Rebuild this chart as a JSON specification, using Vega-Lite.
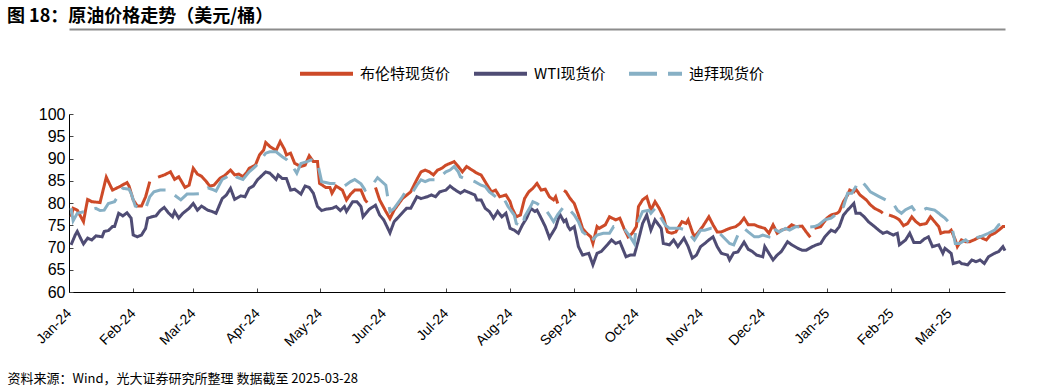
{
  "$schema": "https://vega.github.io/schema/vega-lite/v6.json",
  "width": 936,
  "height": 178,
  "autosize": {"type": "none"},
  "padding": {"left": 69, "top": 114, "right": 50, "bottom": 98},
  "background": "white",
  "title": {
    "text": "图 18：原油价格走势（美元/桶）",
    "anchor": "start",
    "frame": "group",
    "dx": -62,
    "offset": 3,
    "font": "Noto Sans CJK SC",
    "fontSize": 18,
    "fontWeight": "bold",
    "color": "#000000"
  },
  "config": {
    "view": {"stroke": null},
    "legend": {
      "orient": "none",
      "legendX": 229,
      "legendY": -69,
      "direction": "horizontal",
      "symbolType": "stroke",
      "symbolSize": 2809,
      "symbolStrokeWidth": 4,
      "labelFont": "Noto Sans CJK SC",
      "labelFontSize": 15,
      "labelColor": "#000000",
      "labelOffset": 5,
      "columnPadding": 15,
      "padding": 0
    }
  },
  "data": {
    "values": [
      {"d":"2024-01-02","s":"布伦特现货价","v":76.9},{"d":"2024-01-03","s":"布伦特现货价","v":78.8},{"d":"2024-01-05","s":"布伦特现货价","v":78.4},{"d":"2024-01-08","s":"布伦特现货价","v":75.8},{"d":"2024-01-09","s":"布伦特现货价","v":78.4},{"d":"2024-01-10","s":"布伦特现货价","v":80.8},{"d":"2024-01-12","s":"布伦特现货价","v":80.3},{"d":"2024-01-16","s":"布伦特现货价","v":80.1},{"d":"2024-01-19","s":"布伦特现货价","v":85.8},{"d":"2024-01-22","s":"布伦特现货价","v":82.9},{"d":"2024-01-26","s":"布伦特现货价","v":83.8},{"d":"2024-01-29","s":"布伦特现货价","v":84.6},{"d":"2024-01-30","s":"布伦特现货价","v":83.8},{"d":"2024-02-01","s":"布伦特现货价","v":80.7},{"d":"2024-02-03","s":"布伦特现货价","v":79.3},{"d":"2024-02-05","s":"布伦特现货价","v":79.3},{"d":"2024-02-07","s":"布伦特现货价","v":81.4},{"d":"2024-02-09","s":"布伦特现货价","v":84.8},{"d":"2024-02-11","s":"布伦特现货价","v":null},{"d":"2024-02-13","s":"布伦特现货价","v":85.8},{"d":"2024-02-16","s":"布伦特现货价","v":86.3},{"d":"2024-02-19","s":"布伦特现货价","v":87.0},{"d":"2024-02-21","s":"布伦特现货价","v":85.3},{"d":"2024-02-23","s":"布伦特现货价","v":85.9},{"d":"2024-02-26","s":"布伦特现货价","v":83.5},{"d":"2024-02-28","s":"布伦特现货价","v":84.0},{"d":"2024-03-01","s":"布伦特现货价","v":87.8},{"d":"2024-03-03","s":"布伦特现货价","v":86.5},{"d":"2024-03-05","s":"布伦特现货价","v":86.0},{"d":"2024-03-07","s":"布伦特现货价","v":85.0},{"d":"2024-03-09","s":"布伦特现货价","v":83.8},{"d":"2024-03-11","s":"布伦特现货价","v":84.0},{"d":"2024-03-14","s":"布伦特现货价","v":85.6},{"d":"2024-03-16","s":"布伦特现货价","v":86.1},{"d":"2024-03-19","s":"布伦特现货价","v":87.4},{"d":"2024-03-21","s":"布伦特现货价","v":86.3},{"d":"2024-03-23","s":"布伦特现货价","v":86.5},{"d":"2024-03-25","s":"布伦特现货价","v":85.9},{"d":"2024-03-27","s":"布伦特现货价","v":87.0},{"d":"2024-03-28","s":"布伦特现货价","v":87.8},{"d":"2024-03-31","s":"布伦特现货价","v":88.5},{"d":"2024-04-02","s":"布伦特现货价","v":90.8},{"d":"2024-04-04","s":"布伦特现货价","v":91.9},{"d":"2024-04-05","s":"布伦特现货价","v":93.6},{"d":"2024-04-07","s":"布伦特现货价","v":92.7},{"d":"2024-04-10","s":"布伦特现货价","v":91.8},{"d":"2024-04-12","s":"布伦特现货价","v":93.8},{"d":"2024-04-14","s":"布伦特现货价","v":92.1},{"d":"2024-04-15","s":"布伦特现货价","v":90.8},{"d":"2024-04-17","s":"布伦特现货价","v":91.2},{"d":"2024-04-19","s":"布伦特现货价","v":88.9},{"d":"2024-04-22","s":"布伦特现货价","v":88.2},{"d":"2024-04-24","s":"布伦特现货价","v":88.5},{"d":"2024-04-26","s":"布伦特现货价","v":90.6},{"d":"2024-04-28","s":"布伦特现货价","v":89.3},{"d":"2024-04-30","s":"布伦特现货价","v":89.3},{"d":"2024-05-01","s":"布伦特现货价","v":84.4},{"d":"2024-05-04","s":"布伦特现货价","v":83.5},{"d":"2024-05-06","s":"布伦特现货价","v":83.5},{"d":"2024-05-07","s":"布伦特现货价","v":82.2},{"d":"2024-05-09","s":"布伦特现货价","v":83.8},{"d":"2024-05-12","s":"布伦特现货价","v":82.9},{"d":"2024-05-14","s":"布伦特现货价","v":80.7},{"d":"2024-05-16","s":"布伦特现货价","v":82.0},{"d":"2024-05-18","s":"布伦特现货价","v":82.9},{"d":"2024-05-21","s":"布伦特现货价","v":82.9},{"d":"2024-05-23","s":"布伦特现货价","v":80.7},{"d":"2024-05-24","s":"布伦特现货价","v":80.1},{"d":"2024-05-26","s":"布伦特现货价","v":null},{"d":"2024-05-28","s":"布伦特现货价","v":83.5},{"d":"2024-05-30","s":"布伦特现货价","v":80.7},{"d":"2024-06-02","s":"布伦特现货价","v":78.1},{"d":"2024-06-04","s":"布伦特现货价","v":76.5},{"d":"2024-06-06","s":"布伦特现货价","v":78.4},{"d":"2024-06-10","s":"布伦特现货价","v":81.0},{"d":"2024-06-14","s":"布伦特现货价","v":82.5},{"d":"2024-06-17","s":"布伦特现货价","v":85.3},{"d":"2024-06-19","s":"布伦特现货价","v":87.0},{"d":"2024-06-21","s":"布伦特现货价","v":87.4},{"d":"2024-06-23","s":"布伦特现货价","v":87.0},{"d":"2024-06-25","s":"布伦特现货价","v":86.3},{"d":"2024-06-27","s":"布伦特现货价","v":87.4},{"d":"2024-06-29","s":"布伦特现货价","v":87.8},{"d":"2024-07-01","s":"布伦特现货价","v":88.5},{"d":"2024-07-03","s":"布伦特现货价","v":88.9},{"d":"2024-07-05","s":"布伦特现货价","v":89.3},{"d":"2024-07-07","s":"布伦特现货价","v":88.2},{"d":"2024-07-09","s":"布伦特现货价","v":87.0},{"d":"2024-07-11","s":"布伦特现货价","v":88.2},{"d":"2024-07-14","s":"布伦特现货价","v":87.3},{"d":"2024-07-16","s":"布伦特现货价","v":86.7},{"d":"2024-07-18","s":"布伦特现货价","v":86.3},{"d":"2024-07-21","s":"布伦特现货价","v":84.0},{"d":"2024-07-23","s":"布伦特现货价","v":82.5},{"d":"2024-07-25","s":"布伦特现货价","v":82.9},{"d":"2024-07-27","s":"布伦特现货价","v":81.4},{"d":"2024-07-30","s":"布伦特现货价","v":81.8},{"d":"2024-08-01","s":"布伦特现货价","v":80.3},{"d":"2024-08-02","s":"布伦特现货价","v":78.8},{"d":"2024-08-04","s":"布伦特现货价","v":76.9},{"d":"2024-08-06","s":"布伦特现货价","v":77.3},{"d":"2024-08-08","s":"布伦特现货价","v":81.0},{"d":"2024-08-10","s":"布伦特现货价","v":82.5},{"d":"2024-08-12","s":"布伦特现货价","v":83.3},{"d":"2024-08-14","s":"布伦特现货价","v":84.4},{"d":"2024-08-16","s":"布伦特现货价","v":82.9},{"d":"2024-08-18","s":"布伦特现货价","v":83.1},{"d":"2024-08-20","s":"布伦特现货价","v":81.4},{"d":"2024-08-22","s":"布伦特现货价","v":80.7},{"d":"2024-08-23","s":"布伦特现货价","v":81.4},{"d":"2024-08-24","s":"布伦特现货价","v":79.9},{"d":"2024-08-25","s":"布伦特现货价","v":null},{"d":"2024-08-27","s":"布伦特现货价","v":82.8},{"d":"2024-08-28","s":"布伦特现货价","v":82.5},{"d":"2024-08-30","s":"布伦特现货价","v":81.0},{"d":"2024-09-01","s":"布伦特现货价","v":79.9},{"d":"2024-09-03","s":"布伦特现货价","v":77.3},{"d":"2024-09-05","s":"布伦特现货价","v":74.3},{"d":"2024-09-07","s":"布伦特现货价","v":73.2},{"d":"2024-09-09","s":"布伦特现货价","v":72.4},{"d":"2024-09-10","s":"布伦特现货价","v":70.9},{"d":"2024-09-12","s":"布伦特现货价","v":74.7},{"d":"2024-09-13","s":"布伦特现货价","v":74.3},{"d":"2024-09-16","s":"布伦特现货价","v":75.1},{"d":"2024-09-18","s":"布伦特现货价","v":76.9},{"d":"2024-09-21","s":"布伦特现货价","v":76.2},{"d":"2024-09-23","s":"布伦特现货价","v":76.6},{"d":"2024-09-25","s":"布伦特现货价","v":74.3},{"d":"2024-09-27","s":"布伦特现货价","v":72.4},{"d":"2024-09-29","s":"布伦特现货价","v":73.2},{"d":"2024-10-01","s":"布伦特现货价","v":74.7},{"d":"2024-10-02","s":"布伦特现货价","v":79.2},{"d":"2024-10-04","s":"布伦特现货价","v":80.7},{"d":"2024-10-06","s":"布伦特现货价","v":81.4},{"d":"2024-10-08","s":"布伦特现货价","v":78.4},{"d":"2024-10-10","s":"布伦特现货价","v":80.3},{"d":"2024-10-12","s":"布伦特现货价","v":78.8},{"d":"2024-10-14","s":"布伦特现货价","v":76.9},{"d":"2024-10-16","s":"布伦特现货价","v":73.5},{"d":"2024-10-18","s":"布伦特现货价","v":73.2},{"d":"2024-10-20","s":"布伦特现货价","v":73.5},{"d":"2024-10-23","s":"布伦特现货价","v":75.8},{"d":"2024-10-25","s":"布伦特现货价","v":75.4},{"d":"2024-10-26","s":"布伦特现货价","v":76.2},{"d":"2024-10-28","s":"布伦特现货价","v":73.5},{"d":"2024-10-29","s":"布伦特现货价","v":72.4},{"d":"2024-10-31","s":"布伦特现货价","v":73.5},{"d":"2024-11-02","s":"布伦特现货价","v":74.7},{"d":"2024-11-05","s":"布伦特现货价","v":76.9},{"d":"2024-11-07","s":"布伦特现货价","v":75.1},{"d":"2024-11-09","s":"布伦特现货价","v":73.5},{"d":"2024-11-11","s":"布伦特现货价","v":73.5},{"d":"2024-11-13","s":"布伦特现货价","v":73.9},{"d":"2024-11-15","s":"布伦特现货价","v":74.3},{"d":"2024-11-18","s":"布伦特现货价","v":74.7},{"d":"2024-11-20","s":"布伦特现货价","v":75.4},{"d":"2024-11-22","s":"布伦特现货价","v":76.6},{"d":"2024-11-24","s":"布伦特现货价","v":75.1},{"d":"2024-11-27","s":"布伦特现货价","v":75.1},{"d":"2024-11-29","s":"布伦特现货价","v":74.7},{"d":"2024-12-02","s":"布伦特现货价","v":74.3},{"d":"2024-12-04","s":"布伦特现货价","v":73.2},{"d":"2024-12-06","s":"布伦特现货价","v":75.1},{"d":"2024-12-08","s":"布伦特现货价","v":73.2},{"d":"2024-12-10","s":"布伦特现货价","v":73.9},{"d":"2024-12-13","s":"布伦特现货价","v":74.3},{"d":"2024-12-15","s":"布伦特现货价","v":75.1},{"d":"2024-12-17","s":"布伦特现货价","v":74.7},{"d":"2024-12-20","s":"布伦特现货价","v":74.8},{"d":"2024-12-22","s":"布伦特现货价","v":73.5},{"d":"2024-12-24","s":"布伦特现货价","v":72.3},{"d":"2024-12-25","s":"布伦特现货价","v":null},{"d":"2024-12-26","s":"布伦特现货价","v":74.3},{"d":"2024-12-29","s":"布伦特现货价","v":74.7},{"d":"2025-01-01","s":"布伦特现货价","v":76.6},{"d":"2025-01-03","s":"布伦特现货价","v":77.3},{"d":"2025-01-06","s":"布伦特现货价","v":77.7},{"d":"2025-01-07","s":"布伦特现货价","v":78.1},{"d":"2025-01-09","s":"布伦特现货价","v":80.3},{"d":"2025-01-11","s":"布伦特现货价","v":81.8},{"d":"2025-01-12","s":"布伦特现货价","v":82.9},{"d":"2025-01-14","s":"布伦特现货价","v":82.5},{"d":"2025-01-15","s":"布伦特现货价","v":83.1},{"d":"2025-01-17","s":"布伦特现货价","v":81.8},{"d":"2025-01-20","s":"布伦特现货价","v":80.7},{"d":"2025-01-22","s":"布伦特现货价","v":79.6},{"d":"2025-01-24","s":"布伦特现货价","v":78.8},{"d":"2025-01-27","s":"布伦特现货价","v":78.1},{"d":"2025-01-28","s":"布伦特现货价","v":77.7},{"d":"2025-01-29","s":"布伦特现货价","v":null},{"d":"2025-01-31","s":"布伦特现货价","v":77.3},{"d":"2025-02-03","s":"布伦特现货价","v":76.8},{"d":"2025-02-05","s":"布伦特现货价","v":76.2},{"d":"2025-02-07","s":"布伦特现货价","v":74.9},{"d":"2025-02-09","s":"布伦特现货价","v":75.4},{"d":"2025-02-11","s":"布伦特现货价","v":76.9},{"d":"2025-02-13","s":"布伦特现货价","v":75.8},{"d":"2025-02-15","s":"布伦特现货价","v":75.1},{"d":"2025-02-18","s":"布伦特现货价","v":75.4},{"d":"2025-02-20","s":"布伦特现货价","v":76.9},{"d":"2025-02-22","s":"布伦特现货价","v":75.8},{"d":"2025-02-24","s":"布伦特现货价","v":74.7},{"d":"2025-02-25","s":"布伦特现货价","v":73.2},{"d":"2025-02-27","s":"布伦特现货价","v":73.5},{"d":"2025-03-01","s":"布伦特现货价","v":73.5},{"d":"2025-03-02","s":"布伦特现货价","v":73.9},{"d":"2025-03-04","s":"布伦特现货价","v":71.7},{"d":"2025-03-05","s":"布伦特现货价","v":70.2},{"d":"2025-03-07","s":"布伦特现货价","v":71.7},{"d":"2025-03-09","s":"布伦特现货价","v":71.3},{"d":"2025-03-11","s":"布伦特现货价","v":71.3},{"d":"2025-03-13","s":"布伦特现货价","v":71.7},{"d":"2025-03-16","s":"布伦特现货价","v":72.4},{"d":"2025-03-17","s":"布伦特现货价","v":72.1},{"d":"2025-03-19","s":"布伦特现货价","v":71.7},{"d":"2025-03-21","s":"布伦特现货价","v":72.8},{"d":"2025-03-23","s":"布伦特现货价","v":73.2},{"d":"2025-03-25","s":"布伦特现货价","v":73.9},{"d":"2025-03-27","s":"布伦特现货价","v":74.7},{"d":"2025-03-28","s":"布伦特现货价","v":74.7},

      {"d":"2024-01-02","s":"WTI现货价","v":70.6},{"d":"2024-01-04","s":"WTI现货价","v":72.8},{"d":"2024-01-05","s":"WTI现货价","v":73.6},{"d":"2024-01-07","s":"WTI现货价","v":71.7},{"d":"2024-01-08","s":"WTI现货价","v":70.8},{"d":"2024-01-10","s":"WTI现货价","v":72.1},{"d":"2024-01-12","s":"WTI现货价","v":71.7},{"d":"2024-01-14","s":"WTI现货价","v":72.6},{"d":"2024-01-17","s":"WTI现货价","v":72.4},{"d":"2024-01-18","s":"WTI现货价","v":73.6},{"d":"2024-01-20","s":"WTI现货价","v":73.8},{"d":"2024-01-22","s":"WTI现货价","v":74.7},{"d":"2024-01-23","s":"WTI现货价","v":74.7},{"d":"2024-01-25","s":"WTI现货价","v":77.7},{"d":"2024-01-27","s":"WTI现货价","v":77.1},{"d":"2024-01-29","s":"WTI现货价","v":77.8},{"d":"2024-01-31","s":"WTI现货价","v":76.6},{"d":"2024-02-01","s":"WTI现货价","v":72.8},{"d":"2024-02-03","s":"WTI现货价","v":72.4},{"d":"2024-02-05","s":"WTI现货价","v":72.8},{"d":"2024-02-07","s":"WTI现货价","v":74.3},{"d":"2024-02-08","s":"WTI现货价","v":76.6},{"d":"2024-02-10","s":"WTI现货价","v":76.9},{"d":"2024-02-12","s":"WTI现货价","v":77.1},{"d":"2024-02-14","s":"WTI现货价","v":78.3},{"d":"2024-02-16","s":"WTI现货价","v":79.0},{"d":"2024-02-18","s":"WTI现货价","v":77.8},{"d":"2024-02-20","s":"WTI现货价","v":76.9},{"d":"2024-02-21","s":"WTI现货价","v":78.1},{"d":"2024-02-23","s":"WTI现货价","v":76.6},{"d":"2024-02-25","s":"WTI现货价","v":77.7},{"d":"2024-02-28","s":"WTI现货价","v":78.8},{"d":"2024-03-01","s":"WTI现货价","v":79.9},{"d":"2024-03-03","s":"WTI现货价","v":78.4},{"d":"2024-03-05","s":"WTI现货价","v":79.3},{"d":"2024-03-08","s":"WTI现货价","v":78.4},{"d":"2024-03-10","s":"WTI现货价","v":78.1},{"d":"2024-03-12","s":"WTI现货价","v":77.7},{"d":"2024-03-15","s":"WTI现货价","v":81.0},{"d":"2024-03-17","s":"WTI现货价","v":81.8},{"d":"2024-03-19","s":"WTI现货价","v":83.3},{"d":"2024-03-21","s":"WTI现货价","v":80.8},{"d":"2024-03-24","s":"WTI现货价","v":81.6},{"d":"2024-03-26","s":"WTI现货价","v":81.4},{"d":"2024-03-28","s":"WTI现货价","v":83.3},{"d":"2024-03-30","s":"WTI现货价","v":83.8},{"d":"2024-04-01","s":"WTI现货价","v":85.2},{"d":"2024-04-03","s":"WTI现货价","v":86.1},{"d":"2024-04-05","s":"WTI现货价","v":87.0},{"d":"2024-04-07","s":"WTI现货价","v":86.7},{"d":"2024-04-10","s":"WTI现货价","v":85.3},{"d":"2024-04-11","s":"WTI现货价","v":86.3},{"d":"2024-04-13","s":"WTI现货价","v":85.5},{"d":"2024-04-15","s":"WTI现货价","v":85.5},{"d":"2024-04-17","s":"WTI现货价","v":82.9},{"d":"2024-04-19","s":"WTI现货价","v":83.1},{"d":"2024-04-22","s":"WTI现货价","v":82.0},{"d":"2024-04-24","s":"WTI现货价","v":83.8},{"d":"2024-04-26","s":"WTI现货价","v":83.5},{"d":"2024-04-28","s":"WTI现货价","v":82.2},{"d":"2024-04-30","s":"WTI现货价","v":79.2},{"d":"2024-05-02","s":"WTI现货价","v":78.3},{"d":"2024-05-04","s":"WTI现货价","v":78.6},{"d":"2024-05-07","s":"WTI现货价","v":78.8},{"d":"2024-05-09","s":"WTI现货价","v":79.2},{"d":"2024-05-11","s":"WTI现货价","v":78.3},{"d":"2024-05-13","s":"WTI现货价","v":79.2},{"d":"2024-05-14","s":"WTI现货价","v":78.1},{"d":"2024-05-17","s":"WTI现货价","v":80.3},{"d":"2024-05-19","s":"WTI现货价","v":80.3},{"d":"2024-05-21","s":"WTI现货价","v":79.2},{"d":"2024-05-22","s":"WTI现货价","v":76.9},{"d":"2024-05-25","s":"WTI现货价","v":78.6},{"d":"2024-05-28","s":"WTI现货价","v":79.5},{"d":"2024-05-30","s":"WTI现货价","v":77.3},{"d":"2024-06-01","s":"WTI现货价","v":76.2},{"d":"2024-06-04","s":"WTI现货价","v":73.3},{"d":"2024-06-06","s":"WTI现货价","v":75.8},{"d":"2024-06-09","s":"WTI现货价","v":77.3},{"d":"2024-06-12","s":"WTI现货价","v":78.8},{"d":"2024-06-14","s":"WTI现货价","v":78.8},{"d":"2024-06-17","s":"WTI现货价","v":81.4},{"d":"2024-06-19","s":"WTI现货价","v":81.0},{"d":"2024-06-22","s":"WTI现货价","v":81.4},{"d":"2024-06-24","s":"WTI现货价","v":81.8},{"d":"2024-06-26","s":"WTI现货价","v":81.4},{"d":"2024-06-28","s":"WTI现货价","v":82.5},{"d":"2024-07-01","s":"WTI现货价","v":82.9},{"d":"2024-07-03","s":"WTI现货价","v":83.8},{"d":"2024-07-05","s":"WTI现货价","v":83.1},{"d":"2024-07-08","s":"WTI现货价","v":82.2},{"d":"2024-07-10","s":"WTI现货价","v":82.8},{"d":"2024-07-13","s":"WTI现货价","v":82.2},{"d":"2024-07-15","s":"WTI现货价","v":81.8},{"d":"2024-07-16","s":"WTI现货价","v":80.7},{"d":"2024-07-18","s":"WTI现货价","v":80.7},{"d":"2024-07-20","s":"WTI现货价","v":78.8},{"d":"2024-07-22","s":"WTI现货价","v":78.1},{"d":"2024-07-24","s":"WTI现货价","v":76.6},{"d":"2024-07-26","s":"WTI现货价","v":78.1},{"d":"2024-07-28","s":"WTI现货价","v":76.9},{"d":"2024-07-30","s":"WTI现货价","v":77.7},{"d":"2024-08-01","s":"WTI现货价","v":74.3},{"d":"2024-08-03","s":"WTI现货价","v":73.9},{"d":"2024-08-05","s":"WTI现货价","v":73.2},{"d":"2024-08-07","s":"WTI现货价","v":75.1},{"d":"2024-08-09","s":"WTI现货价","v":76.6},{"d":"2024-08-11","s":"WTI现货价","v":78.8},{"d":"2024-08-13","s":"WTI现货价","v":78.1},{"d":"2024-08-14","s":"WTI现货价","v":78.4},{"d":"2024-08-16","s":"WTI现货价","v":76.6},{"d":"2024-08-18","s":"WTI现货价","v":74.7},{"d":"2024-08-20","s":"WTI现货价","v":72.2},{"d":"2024-08-23","s":"WTI现货价","v":74.5},{"d":"2024-08-25","s":"WTI现货价","v":77.5},{"d":"2024-08-27","s":"WTI现货价","v":75.8},{"d":"2024-08-28","s":"WTI现货价","v":76.2},{"d":"2024-08-29","s":"WTI现货价","v":74.7},{"d":"2024-08-30","s":"WTI现货价","v":74.0},{"d":"2024-09-01","s":"WTI现货价","v":74.7},{"d":"2024-09-03","s":"WTI现货价","v":70.2},{"d":"2024-09-05","s":"WTI现货价","v":68.3},{"d":"2024-09-08","s":"WTI现货价","v":68.7},{"d":"2024-09-10","s":"WTI现货价","v":66.1},{"d":"2024-09-12","s":"WTI现货价","v":68.7},{"d":"2024-09-14","s":"WTI现货价","v":69.1},{"d":"2024-09-17","s":"WTI现货价","v":70.6},{"d":"2024-09-19","s":"WTI现货价","v":71.7},{"d":"2024-09-21","s":"WTI现货价","v":70.9},{"d":"2024-09-23","s":"WTI现货价","v":71.3},{"d":"2024-09-26","s":"WTI现货价","v":67.9},{"d":"2024-09-28","s":"WTI现货价","v":68.3},{"d":"2024-09-30","s":"WTI现货价","v":68.3},{"d":"2024-10-02","s":"WTI现货价","v":71.7},{"d":"2024-10-04","s":"WTI现货价","v":75.4},{"d":"2024-10-06","s":"WTI现货价","v":77.3},{"d":"2024-10-08","s":"WTI现货价","v":73.9},{"d":"2024-10-10","s":"WTI现货价","v":76.2},{"d":"2024-10-13","s":"WTI现货价","v":74.3},{"d":"2024-10-14","s":"WTI现货价","v":70.9},{"d":"2024-10-17","s":"WTI现货价","v":70.6},{"d":"2024-10-19","s":"WTI现货价","v":71.7},{"d":"2024-10-21","s":"WTI现货价","v":70.2},{"d":"2024-10-24","s":"WTI现货价","v":72.1},{"d":"2024-10-26","s":"WTI现货价","v":70.2},{"d":"2024-10-28","s":"WTI现货价","v":67.6},{"d":"2024-10-30","s":"WTI现货价","v":68.3},{"d":"2024-11-01","s":"WTI现货价","v":70.2},{"d":"2024-11-03","s":"WTI现货价","v":70.9},{"d":"2024-11-05","s":"WTI现货价","v":71.7},{"d":"2024-11-07","s":"WTI现货价","v":72.4},{"d":"2024-11-09","s":"WTI现货价","v":70.2},{"d":"2024-11-11","s":"WTI现货价","v":68.7},{"d":"2024-11-14","s":"WTI现货价","v":68.3},{"d":"2024-11-15","s":"WTI现货价","v":67.2},{"d":"2024-11-17","s":"WTI现货价","v":68.8},{"d":"2024-11-19","s":"WTI现货价","v":69.0},{"d":"2024-11-22","s":"WTI现货价","v":71.2},{"d":"2024-11-24","s":"WTI现货价","v":69.6},{"d":"2024-11-26","s":"WTI现货价","v":69.1},{"d":"2024-11-28","s":"WTI现货价","v":68.3},{"d":"2024-12-01","s":"WTI现货价","v":67.9},{"d":"2024-12-02","s":"WTI现货价","v":70.2},{"d":"2024-12-04","s":"WTI现货价","v":68.7},{"d":"2024-12-06","s":"WTI现货价","v":67.2},{"d":"2024-12-08","s":"WTI现货价","v":68.3},{"d":"2024-12-10","s":"WTI现货价","v":69.1},{"d":"2024-12-13","s":"WTI现货价","v":71.3},{"d":"2024-12-15","s":"WTI现货价","v":70.6},{"d":"2024-12-18","s":"WTI现货价","v":69.8},{"d":"2024-12-20","s":"WTI现货价","v":69.4},{"d":"2024-12-22","s":"WTI现货价","v":69.4},{"d":"2024-12-25","s":"WTI现货价","v":70.2},{"d":"2024-12-27","s":"WTI现货价","v":70.6},{"d":"2024-12-29","s":"WTI现货价","v":70.9},{"d":"2024-12-31","s":"WTI现货价","v":72.4},{"d":"2025-01-03","s":"WTI现货价","v":73.9},{"d":"2025-01-05","s":"WTI现货价","v":73.5},{"d":"2025-01-07","s":"WTI现货价","v":74.7},{"d":"2025-01-09","s":"WTI现货价","v":77.3},{"d":"2025-01-11","s":"WTI现货价","v":78.4},{"d":"2025-01-14","s":"WTI现货价","v":79.9},{"d":"2025-01-15","s":"WTI现货价","v":77.7},{"d":"2025-01-17","s":"WTI现货价","v":77.7},{"d":"2025-01-19","s":"WTI现货价","v":76.9},{"d":"2025-01-21","s":"WTI现货价","v":75.8},{"d":"2025-01-24","s":"WTI现货价","v":74.7},{"d":"2025-01-26","s":"WTI现货价","v":73.9},{"d":"2025-01-28","s":"WTI现货价","v":73.2},{"d":"2025-01-30","s":"WTI现货价","v":73.5},{"d":"2025-02-02","s":"WTI现货价","v":72.8},{"d":"2025-02-04","s":"WTI现货价","v":73.2},{"d":"2025-02-05","s":"WTI现货价","v":70.6},{"d":"2025-02-08","s":"WTI现货价","v":71.7},{"d":"2025-02-10","s":"WTI现货价","v":73.2},{"d":"2025-02-12","s":"WTI现货价","v":71.1},{"d":"2025-02-15","s":"WTI现货价","v":71.1},{"d":"2025-02-17","s":"WTI现货价","v":71.9},{"d":"2025-02-19","s":"WTI现货价","v":72.4},{"d":"2025-02-21","s":"WTI现货价","v":70.2},{"d":"2025-02-24","s":"WTI现货价","v":70.6},{"d":"2025-02-26","s":"WTI现货价","v":68.7},{"d":"2025-02-27","s":"WTI现货价","v":69.8},{"d":"2025-03-02","s":"WTI现货价","v":68.7},{"d":"2025-03-03","s":"WTI现货价","v":66.4},{"d":"2025-03-06","s":"WTI现货价","v":66.8},{"d":"2025-03-07","s":"WTI现货价","v":66.4},{"d":"2025-03-10","s":"WTI现货价","v":66.1},{"d":"2025-03-12","s":"WTI现货价","v":67.2},{"d":"2025-03-14","s":"WTI现货价","v":66.8},{"d":"2025-03-16","s":"WTI现货价","v":67.2},{"d":"2025-03-18","s":"WTI现货价","v":66.4},{"d":"2025-03-20","s":"WTI现货价","v":67.9},{"d":"2025-03-23","s":"WTI现货价","v":68.7},{"d":"2025-03-25","s":"WTI现货价","v":69.1},{"d":"2025-03-27","s":"WTI现货价","v":70.2},{"d":"2025-03-28","s":"WTI现货价","v":69.3},

      {"d":"2024-01-02","s":"迪拜现货价","v":78.8},{"d":"2024-01-03","s":"迪拜现货价","v":76.0},{"d":"2024-01-05","s":"迪拜现货价","v":77.7},{"d":"2024-01-09","s":"迪拜现货价","v":78.1},{"d":"2024-01-11","s":"迪拜现货价","v":78.4},{"d":"2024-01-14","s":"迪拜现货价","v":78.8},{"d":"2024-01-16","s":"迪拜现货价","v":78.3},{"d":"2024-01-18","s":"迪拜现货价","v":78.4},{"d":"2024-01-20","s":"迪拜现货价","v":79.9},{"d":"2024-01-23","s":"迪拜现货价","v":80.3},{"d":"2024-01-27","s":"迪拜现货价","v":83.3},{"d":"2024-01-30","s":"迪拜现货价","v":83.1},{"d":"2024-01-31","s":"迪拜现货价","v":82.2},{"d":"2024-02-02","s":"迪拜现货价","v":79.3},{"d":"2024-02-04","s":"迪拜现货价","v":79.0},{"d":"2024-02-07","s":"迪拜现货价","v":78.8},{"d":"2024-02-09","s":"迪拜现货价","v":81.4},{"d":"2024-02-11","s":"迪拜现货价","v":82.5},{"d":"2024-02-14","s":"迪拜现货价","v":82.9},{"d":"2024-02-18","s":"迪拜现货价","v":82.9},{"d":"2024-02-22","s":"迪拜现货价","v":81.4},{"d":"2024-02-24","s":"迪拜现货价","v":80.7},{"d":"2024-02-27","s":"迪拜现货价","v":82.0},{"d":"2024-03-01","s":"迪拜现货价","v":82.0},{"d":"2024-03-05","s":"迪拜现货价","v":82.1},{"d":"2024-03-08","s":"迪拜现货价","v":83.4},{"d":"2024-03-10","s":"迪拜现货价","v":83.1},{"d":"2024-03-12","s":"迪拜现货价","v":82.7},{"d":"2024-03-15","s":"迪拜现货价","v":85.3},{"d":"2024-03-17","s":"迪拜现货价","v":85.8},{"d":"2024-03-20","s":"迪拜现货价","v":86.7},{"d":"2024-03-22","s":"迪拜现货价","v":85.8},{"d":"2024-03-25","s":"迪拜现货价","v":85.3},{"d":"2024-03-28","s":"迪拜现货价","v":87.0},{"d":"2024-03-31","s":"迪拜现货价","v":88.2},{"d":"2024-04-02","s":"迪拜现货价","v":89.3},{"d":"2024-04-05","s":"迪拜现货价","v":91.2},{"d":"2024-04-07","s":"迪拜现货价","v":91.5},{"d":"2024-04-10","s":"迪拜现货价","v":91.5},{"d":"2024-04-13","s":"迪拜现货价","v":90.4},{"d":"2024-04-15","s":"迪拜现货价","v":89.8},{"d":"2024-04-18","s":"迪拜现货价","v":88.2},{"d":"2024-04-20","s":"迪拜现货价","v":86.7},{"d":"2024-04-22","s":"迪拜现货价","v":88.9},{"d":"2024-04-25","s":"迪拜现货价","v":89.3},{"d":"2024-04-27","s":"迪拜现货价","v":89.7},{"d":"2024-04-30","s":"迪拜现货价","v":89.1},{"d":"2024-05-02","s":"迪拜现货价","v":84.8},{"d":"2024-05-04","s":"迪拜现货价","v":84.6},{"d":"2024-05-06","s":"迪拜现货价","v":84.4},{"d":"2024-05-08","s":"迪拜现货价","v":84.4},{"d":"2024-05-12","s":"迪拜现货价","v":83.5},{"d":"2024-05-16","s":"迪拜现货价","v":84.8},{"d":"2024-05-18","s":"迪拜现货价","v":85.3},{"d":"2024-05-21","s":"迪拜现货价","v":84.3},{"d":"2024-05-23","s":"迪拜现货价","v":82.9},{"d":"2024-05-25","s":"迪拜现货价","v":83.5},{"d":"2024-05-27","s":"迪拜现货价","v":84.4},{"d":"2024-05-29","s":"迪拜现货价","v":85.7},{"d":"2024-06-02","s":"迪拜现货价","v":84.0},{"d":"2024-06-04","s":"迪拜现货价","v":78.1},{"d":"2024-06-06","s":"迪拜现货价","v":78.8},{"d":"2024-06-10","s":"迪拜现货价","v":81.4},{"d":"2024-06-12","s":"迪拜现货价","v":82.9},{"d":"2024-06-15","s":"迪拜现货价","v":82.5},{"d":"2024-06-17","s":"迪拜现货价","v":84.0},{"d":"2024-06-19","s":"迪拜现货价","v":85.2},{"d":"2024-06-21","s":"迪拜现货价","v":84.8},{"d":"2024-06-23","s":"迪拜现货价","v":85.2},{"d":"2024-06-26","s":"迪拜现货价","v":85.2},{"d":"2024-06-29","s":"迪拜现货价","v":86.2},{"d":"2024-07-01","s":"迪拜现货价","v":87.0},{"d":"2024-07-03","s":"迪拜现货价","v":87.4},{"d":"2024-07-05","s":"迪拜现货价","v":88.2},{"d":"2024-07-07","s":"迪拜现货价","v":87.0},{"d":"2024-07-08","s":"迪拜现货价","v":85.9},{"d":"2024-07-10","s":"迪拜现货价","v":85.5},{"d":"2024-07-13","s":"迪拜现货价","v":85.2},{"d":"2024-07-15","s":"迪拜现货价","v":84.8},{"d":"2024-07-18","s":"迪拜现货价","v":84.0},{"d":"2024-07-20","s":"迪拜现货价","v":83.7},{"d":"2024-07-22","s":"迪拜现货价","v":82.5},{"d":"2024-07-24","s":"迪拜现货价","v":81.8},{"d":"2024-07-26","s":"迪拜现货价","v":81.0},{"d":"2024-07-29","s":"迪拜现货价","v":81.0},{"d":"2024-07-31","s":"迪拜现货价","v":79.2},{"d":"2024-08-03","s":"迪拜现货价","v":77.3},{"d":"2024-08-04","s":"迪拜现货价","v":75.4},{"d":"2024-08-07","s":"迪拜现货价","v":74.7},{"d":"2024-08-08","s":"迪拜现货价","v":76.9},{"d":"2024-08-11","s":"迪拜现货价","v":79.3},{"d":"2024-08-12","s":"迪拜现货价","v":80.3},{"d":"2024-08-14","s":"迪拜现货价","v":79.9},{"d":"2024-08-16","s":"迪拜现货价","v":79.2},{"d":"2024-08-18","s":"迪拜现货价","v":78.6},{"d":"2024-08-20","s":"迪拜现货价","v":77.3},{"d":"2024-08-22","s":"迪拜现货价","v":75.8},{"d":"2024-08-24","s":"迪拜现货价","v":77.4},{"d":"2024-08-27","s":"迪拜现货价","v":79.2},{"d":"2024-08-29","s":"迪拜现货价","v":78.8},{"d":"2024-09-01","s":"迪拜现货价","v":77.3},{"d":"2024-09-03","s":"迪拜现货价","v":75.8},{"d":"2024-09-05","s":"迪拜现货价","v":73.5},{"d":"2024-09-08","s":"迪拜现货价","v":72.4},{"d":"2024-09-09","s":"迪拜现货价","v":71.3},{"d":"2024-09-12","s":"迪拜现货价","v":72.8},{"d":"2024-09-15","s":"迪拜现货价","v":73.2},{"d":"2024-09-18","s":"迪拜现货价","v":73.2},{"d":"2024-09-20","s":"迪拜现货价","v":74.7},{"d":"2024-09-22","s":"迪拜现货价","v":74.7},{"d":"2024-09-25","s":"迪拜现货价","v":74.3},{"d":"2024-09-28","s":"迪拜现货价","v":72.4},{"d":"2024-09-30","s":"迪拜现货价","v":70.9},{"d":"2024-10-01","s":"迪拜现货价","v":75.0},{"d":"2024-10-04","s":"迪拜现货价","v":78.1},{"d":"2024-10-07","s":"迪拜现货价","v":78.4},{"d":"2024-10-08","s":"迪拜现货价","v":77.7},{"d":"2024-10-10","s":"迪拜现货价","v":78.8},{"d":"2024-10-12","s":"迪拜现货价","v":77.3},{"d":"2024-10-15","s":"迪拜现货价","v":75.0},{"d":"2024-10-17","s":"迪拜现货价","v":74.3},{"d":"2024-10-20","s":"迪拜现货价","v":74.3},{"d":"2024-10-22","s":"迪拜现货价","v":74.3},{"d":"2024-10-25","s":"迪拜现货价","v":73.9},{"d":"2024-10-27","s":"迪拜现货价","v":72.8},{"d":"2024-10-29","s":"迪拜现货价","v":71.7},{"d":"2024-11-01","s":"迪拜现货价","v":73.9},{"d":"2024-11-03","s":"迪拜现货价","v":73.9},{"d":"2024-11-06","s":"迪拜现货价","v":74.3},{"d":"2024-11-08","s":"迪拜现货价","v":74.3},{"d":"2024-11-11","s":"迪拜现货价","v":72.8},{"d":"2024-11-15","s":"迪拜现货价","v":70.9},{"d":"2024-11-17","s":"迪拜现货价","v":70.6},{"d":"2024-11-19","s":"迪拜现货价","v":72.8},{"d":"2024-11-22","s":"迪拜现货价","v":74.3},{"d":"2024-11-24","s":"迪拜现货价","v":73.5},{"d":"2024-11-27","s":"迪拜现货价","v":72.4},{"d":"2024-11-29","s":"迪拜现货价","v":72.4},{"d":"2024-12-01","s":"迪拜现货价","v":72.8},{"d":"2024-12-04","s":"迪拜现货价","v":72.4},{"d":"2024-12-05","s":"迪拜现货价","v":74.3},{"d":"2024-12-07","s":"迪拜现货价","v":74.0},{"d":"2024-12-09","s":"迪拜现货价","v":73.5},{"d":"2024-12-12","s":"迪拜现货价","v":74.3},{"d":"2024-12-14","s":"迪拜现货价","v":73.9},{"d":"2024-12-17","s":"迪拜现货价","v":74.7},{"d":"2024-12-21","s":"迪拜现货价","v":74.5},{"d":"2024-12-26","s":"迪拜现货价","v":74.7},{"d":"2024-12-28","s":"迪拜现货价","v":75.1},{"d":"2024-12-31","s":"迪拜现货价","v":76.2},{"d":"2025-01-03","s":"迪拜现货价","v":76.6},{"d":"2025-01-05","s":"迪拜现货价","v":77.3},{"d":"2025-01-07","s":"迪拜现货价","v":78.4},{"d":"2025-01-09","s":"迪拜现货价","v":79.2},{"d":"2025-01-11","s":"迪拜现货价","v":82.2},{"d":"2025-01-13","s":"迪拜现货价","v":82.2},{"d":"2025-01-15","s":"迪拜现货价","v":83.7},{"d":"2025-01-16","s":"迪拜现货价","v":84.8},{"d":"2025-01-18","s":"迪拜现货价","v":84.8},{"d":"2025-01-20","s":"迪拜现货价","v":83.7},{"d":"2025-01-22","s":"迪拜现货价","v":82.5},{"d":"2025-01-26","s":"迪拜现货价","v":81.5},{"d":"2025-01-31","s":"迪拜现货价","v":80.3},{"d":"2025-02-02","s":"迪拜现货价","v":79.9},{"d":"2025-02-04","s":"迪拜现货价","v":78.4},{"d":"2025-02-06","s":"迪拜现货价","v":77.7},{"d":"2025-02-08","s":"迪拜现货价","v":78.5},{"d":"2025-02-11","s":"迪拜现货价","v":79.2},{"d":"2025-02-13","s":"迪拜现货价","v":77.9},{"d":"2025-02-15","s":"迪拜现货价","v":78.1},{"d":"2025-02-18","s":"迪拜现货价","v":78.8},{"d":"2025-02-20","s":"迪拜现货价","v":78.6},{"d":"2025-02-22","s":"迪拜现货价","v":78.4},{"d":"2025-02-24","s":"迪拜现货价","v":77.7},{"d":"2025-02-25","s":"迪拜现货价","v":77.3},{"d":"2025-02-27","s":"迪拜现货价","v":76.6},{"d":"2025-03-02","s":"迪拜现货价","v":75.1},{"d":"2025-03-03","s":"迪拜现货价","v":73.2},{"d":"2025-03-04","s":"迪拜现货价","v":70.9},{"d":"2025-03-06","s":"迪拜现货价","v":70.9},{"d":"2025-03-09","s":"迪拜现货价","v":71.7},{"d":"2025-03-11","s":"迪拜现货价","v":70.9},{"d":"2025-03-13","s":"迪拜现货价","v":72.1},{"d":"2025-03-16","s":"迪拜现货价","v":72.4},{"d":"2025-03-18","s":"迪拜现货价","v":72.8},{"d":"2025-03-20","s":"迪拜现货价","v":73.2},{"d":"2025-03-23","s":"迪拜现货价","v":73.9},{"d":"2025-03-25","s":"迪拜现货价","v":75.1},{"d":"2025-03-27","s":"迪拜现货价","v":75.4},{"d":"2025-03-28","s":"迪拜现货价","v":76.2}
    ]
  },
  "resolve": {"axis": {"x": "independent"}},
  "encoding": {
    "y": {
      "field": "v",
      "type": "quantitative",
      "scale": {"domain": [60, 100], "nice": false, "zero": false},
      "axis": {
        "values": [60, 65, 70, 75, 80, 85, 90, 95, 100],
        "labelOverlap": false,
        "title": null,
        "grid": false,
        "labelFont": "Liberation Sans",
        "labelFontSize": 16,
        "labelColor": "#000000",
        "labelPadding": 8,
        "tickSize": -4,
        "tickColor": "#444444",
        "domainColor": "#000000",
        "domainWidth": 1
      }
    }
  },
  "layer": [
    {
      "mark": {"type": "line", "strokeWidth": 3, "invalid": "break-paths-show-domains"},
      "encoding": {
        "x": {
          "field": "d",
          "type": "temporal",
          "scale": {
            "type": "utc",
            "domain": [
              {"year": 2024, "month": 1, "date": 1, "utc": true},
              {"year": 2025, "month": 3, "date": 28, "utc": true}
            ]
          },
          "axis": {
            "orient": "bottom",
            "values": [
              {"year": 2024, "month": 1, "date": 1, "utc": true},
              {"year": 2024, "month": 2, "date": 1, "utc": true},
              {"year": 2024, "month": 3, "date": 1, "utc": true},
              {"year": 2024, "month": 4, "date": 1, "utc": true},
              {"year": 2024, "month": 5, "date": 1, "utc": true},
              {"year": 2024, "month": 6, "date": 1, "utc": true},
              {"year": 2024, "month": 7, "date": 1, "utc": true},
              {"year": 2024, "month": 8, "date": 1, "utc": true},
              {"year": 2024, "month": 9, "date": 1, "utc": true},
              {"year": 2024, "month": 10, "date": 1, "utc": true},
              {"year": 2024, "month": 11, "date": 1, "utc": true},
              {"year": 2024, "month": 12, "date": 1, "utc": true},
              {"year": 2025, "month": 1, "date": 1, "utc": true},
              {"year": 2025, "month": 2, "date": 1, "utc": true},
              {"year": 2025, "month": 3, "date": 1, "utc": true}
            ],
            "labelExpr": "utcFormat(datum.value, '%b-%y')",
            "labelAngle": -45,
            "labelAlign": "right",
            "labelBaseline": "middle",
            "labelPadding": 23,
            "labelFont": "Liberation Sans",
            "labelFontSize": 14,
            "labelColor": "#000000",
            "labelOverlap": false,
            "labelFlush": false,
            "labelBound": false,
            "tickSize": -4,
            "tickColor": "#444444",
            "domainColor": "#000000",
            "domainWidth": 1,
            "grid": false,
            "title": "资料来源：Wind，光大证券研究所整理  数据截至 2025-03-28",
            "titleX": -62,
            "titleY": 86,
            "titleAlign": "left",
            "titleBaseline": "middle",
            "titleFont": "Noto Sans CJK SC",
            "titleFontSize": 13,
            "titleFontWeight": "normal",
            "titleColor": "#000000"
          }
        },
        "color": {
          "field": "s",
          "type": "nominal",
          "scale": {
            "domain": ["布伦特现货价", "WTI现货价", "迪拜现货价"],
            "range": ["#CD4A28", "#4F4C74", "#87B0C5"]
          },
          "legend": {"title": null}
        },
        "strokeDash": {
          "field": "s",
          "type": "nominal",
          "scale": {
            "domain": ["布伦特现货价", "WTI现货价", "迪拜现货价"],
            "range": [[1, 0], [1, 0], [28, 11]]
          },
          "legend": {"title": null}
        }
      }
    },
    {
      "mark": {"type": "line", "opacity": 0},
      "encoding": {
        "x": {
          "field": "d",
          "type": "temporal",
          "axis": {
            "orient": "top",
            "offset": 85,
            "labels": false,
            "ticks": false,
            "title": null,
            "grid": false,
            "domainColor": "#8C8C8C",
            "domainWidth": 2
          }
        },
        "detail": {"field": "s", "type": "nominal"}
      }
    }
  ]
}
